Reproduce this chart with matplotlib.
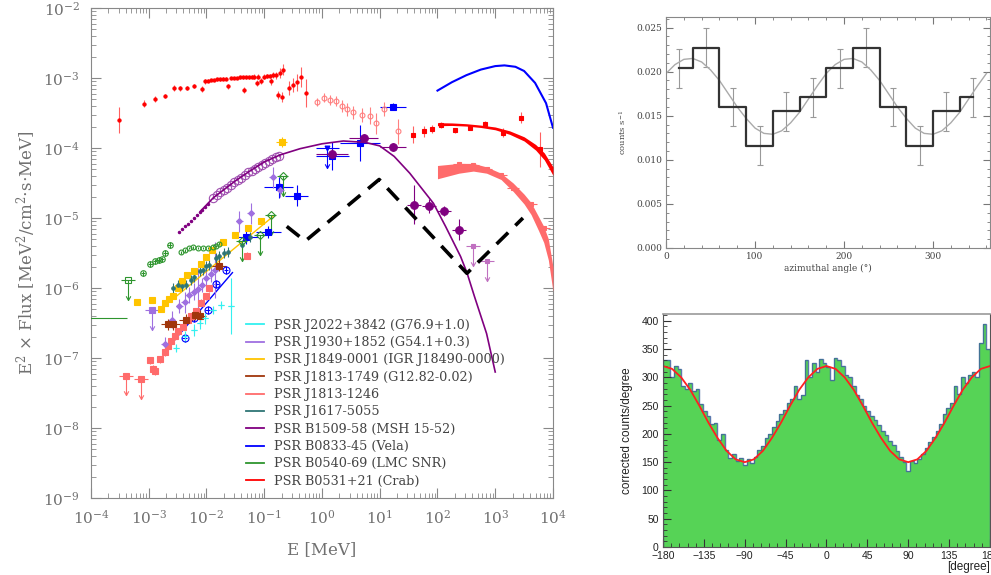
import matplotlib
matplotlib.use("Agg")
import matplotlib.pyplot as plt
import numpy as np
from matplotlib.lines import Line2D
from matplotlib.path import Path
from matplotlib.ticker import LogLocator, MultipleLocator, NullFormatter, FormatStrFormatter

plt.rcParams["font.family"] = ["DejaVu Serif"]
plt.rcParams["mathtext.fontset"] = "dejavuserif"

# ---------------- left panel: log10(E / MeV), log10(E^2 F) ----------------
crab_xr_logE = [-3.52, -3.08, -2.89, -2.72, -2.56, -2.46, -2.33, -2.21, -2.07, -2.02, -1.97, -1.92,
                -1.87, -1.82, -1.77, -1.72, -1.67, -1.62, -1.57, -1.52, -1.47, -1.42, -1.37, -1.35,
                -1.32, -1.27, -1.22, -1.17, -1.13, -1.10, -1.05, -1.00, -0.95, -0.90, -0.88, -0.85,
                -0.80, -0.76, -0.72, -0.70, -0.67, -0.57, -0.50, -0.43, -0.36, -0.28]
crab_xr_logF = [-3.60, -3.37, -3.30, -3.26, -3.14, -3.15, -3.14, -3.12, -3.16, -3.05, -3.04, -3.03,
                -3.03, -3.02, -3.02, -3.01, -3.01, -3.12, -3.00, -3.00, -3.00, -2.99, -2.99, -3.17,
                -2.99, -2.99, -2.98, -2.98, -3.07, -2.98, -3.04, -2.98, -2.97, -2.97, -3.05, -2.96,
                -2.96, -3.24, -2.93, -3.27, -2.88, -3.14, -3.10, -3.06, -2.99, -3.21]
crab_xr_err = [0.19, 0.05, 0.04, 0.03, 0.04, 0.03, 0.03, 0.03, 0.04, 0.03, 0.02, 0.02,
               0.02, 0.02, 0.02, 0.02, 0.02, 0.04, 0.02, 0.02, 0.02, 0.02, 0.02, 0.04,
               0.02, 0.02, 0.02, 0.03, 0.04, 0.03, 0.04, 0.03, 0.03, 0.03, 0.05, 0.04,
               0.05, 0.06, 0.07, 0.07, 0.08, 0.10, 0.10, 0.12, 0.14, 0.20]
crab_mev_logE = [-0.08, 0.04, 0.14, 0.24, 0.34, 0.43, 0.54, 0.69, 0.83, 0.94, 1.08, 1.32]
crab_mev_logF = [-3.34, -3.28, -3.32, -3.33, -3.40, -3.45, -3.49, -3.53, -3.54, -3.65, -3.45, -3.76]
crab_mev_err = [0.06, 0.07, 0.07, 0.07, 0.08, 0.09, 0.09, 0.10, 0.12, 0.15, 0.10, 0.18]
crab_gev_logE = [1.57, 1.76, 1.91, 2.06, 2.31, 2.57, 2.83, 3.14, 3.44, 3.78]
crab_gev_logF = [-3.81, -3.76, -3.73, -3.67, -3.75, -3.71, -3.66, -3.78, -3.57, -4.02]
crab_gev_err = [0.12, 0.08, 0.06, 0.04, 0.03, 0.03, 0.04, 0.06, 0.08, 0.25]
crab_model_logE = [2.0, 2.25, 2.5, 2.75, 3.0, 3.25, 3.5, 3.7, 3.85, 4.0]
crab_model_logF = [-3.66, -3.66, -3.67, -3.69, -3.72, -3.78, -3.87, -3.99, -4.12, -4.33]
crab_model_width = [0.022, 0.018, 0.017, 0.017, 0.02, 0.025, 0.03, 0.04, 0.05, 0.06]

vela_model_logE = [2.0, 2.25, 2.5, 2.75, 3.0, 3.16, 3.35, 3.5, 3.69, 3.88, 4.0]
vela_model_logF = [-3.18, -3.06, -2.96, -2.88, -2.83, -2.82, -2.84, -2.90, -3.07, -3.36, -3.71]
vela_hi_logE = [1.23, 0.66, 0.18, -0.44, -0.75, -0.93, -1.31]
vela_hi_logF = [-3.41, -3.93, -4.12, -4.68, -4.56, -5.20, -5.27]
vela_hi_xerr = [0.23, 0.35, 0.28, 0.20, 0.25, 0.22, 0.20]
vela_hi_yerr = [0.05, 0.26, 0.20, 0.15, 0.15, 0.08, 0.10]
vela_ul_logE = [0.09]
vela_ul_logF = [-4.00]
vela_xr_logE = [-2.55, -1.55]
vela_xr_logF = [-6.74, -5.78]
vela_pts_logE = [-2.38, -2.21, -1.98, -1.83, -1.66]
vela_pts_logF = [-6.71, -6.43, -6.31, -5.94, -5.74]

j1813b_band_logE = [2.0, 2.37, 2.62, 2.85, 3.10, 3.31, 3.50, 3.62, 3.75, 3.84, 3.92, 4.0]
j1813b_band_hi = [-4.25, -4.22, -4.22, -4.27, -4.36, -4.50, -4.66, -4.78, -4.98, -5.12, -5.30, -5.70]
j1813b_band_lo = [-4.44, -4.36, -4.33, -4.36, -4.45, -4.62, -4.80, -4.95, -5.18, -5.35, -5.60, -6.05]
j1813b_gev_logE = [2.37, 2.62, 2.85, 3.10, 3.31, 3.62, 3.84]
j1813b_gev_logF = [-4.23, -4.24, -4.30, -4.39, -4.57, -4.80, -5.14]
j1813b_xr_logE = [-2.98, -2.93, -2.89, -2.81, -2.72, -2.67, -2.61, -2.55, -2.49, -2.41, -2.32,
                  -2.26, -2.18, -2.09, -2.01, -1.95, -1.29]
j1813b_xr_logF = [-7.03, -7.15, -7.19, -7.02, -6.92, -6.83, -6.76, -6.69, -6.62, -6.55, -6.45,
                  -6.40, -6.33, -6.21, -6.12, -6.00, -5.54]
j1813b_ul_logE = [-3.39, -3.13]
j1813b_ul_logF = [-7.25, -7.30]

b1509_curve_logE = [-2.1, -1.88, -1.5, -1.25, -1.0, -0.73, -0.38, 0.0, 0.37, 0.75, 1.0, 1.25,
                    1.52, 1.93, 2.14, 2.4, 2.51, 2.64, 2.85, 3.0]
b1509_curve_logF = [-4.90, -4.71, -4.47, -4.33, -4.20, -4.10, -4.01, -3.94, -3.90, -3.92, -3.97,
                    -4.12, -4.36, -4.79, -5.12, -5.55, -5.78, -6.12, -6.65, -7.20]
b1509_dots_logE = [-2.47, -2.42, -2.37, -2.32, -2.27, -2.22, -2.17, -2.12, -2.07, -2.02, -1.97]
b1509_dots_logF = [-5.20, -5.16, -5.12, -5.08, -5.04, -5.00, -4.96, -4.92, -4.88, -4.84, -4.80]
b1509_circ_logE = [-1.88, -1.82, -1.76, -1.70, -1.64, -1.58, -1.52, -1.46, -1.40, -1.34, -1.28,
                   -1.22, -1.16, -1.10, -1.04, -0.98, -0.92, -0.86, -0.80, -0.74]
b1509_circ_logF = [-4.71, -4.67, -4.63, -4.60, -4.57, -4.53, -4.49, -4.46, -4.43, -4.39, -4.35,
                   -4.33, -4.30, -4.27, -4.24, -4.21, -4.18, -4.16, -4.13, -4.11]
b1509_hi_logE = [0.17, 0.72, 1.23, 1.60, 1.86, 2.11, 2.37]
b1509_hi_logF = [-4.08, -3.86, -3.99, -4.81, -4.83, -4.90, -5.17]
b1509_hi_xerr = [0.28, 0.25, 0.23, 0.12, 0.12, 0.12, 0.12]
b1509_hi_yerr = [0.06, 0.06, 0.06, 0.28, 0.10, 0.07, 0.15]
b1509_ul_logE = [2.62, 2.86]
b1509_ul_logF = [-5.40, -5.62]

j1930_logE = [-2.72, -2.60, -2.47, -2.38, -2.30, -2.22, -2.15, -2.08, -2.00, -1.92, -1.85,
              -1.43, -1.23, -0.85, -0.72]
j1930_logF = [-6.80, -6.45, -6.26, -6.20, -6.10, -6.05, -6.02, -5.95, -5.85, -5.80, -5.74,
              -5.05, -4.93, -4.42, -4.60]
j1930_err = [0.10, 0.12, 0.10, 0.15, 0.12, 0.12, 0.30, 0.10, 0.12, 0.12, 0.40,
             0.15, 0.15, 0.15, 0.10]
j1930_ul_logE = [-2.95]
j1930_ul_logF = [-6.32]

j1849_logE = [-3.20, -2.95, -2.79, -2.72, -2.65, -2.58, -2.50, -2.42, -2.33, -2.22, -2.10,
              -2.00, -1.90, -1.72, -1.50, -1.28, -1.05]
j1849_logF = [-6.20, -6.17, -6.30, -6.22, -6.16, -6.11, -6.00, -5.90, -5.82, -5.75, -5.65,
              -5.55, -5.46, -5.35, -5.25, -5.15, -5.04]
j1849_line_logE = [-2.79, -0.85]
j1849_line_logF = [-6.30, -4.98]
j1849_hi_logE = [-0.70]
j1849_hi_logF = [-3.91]

j1617_logE = [-2.58, -2.50, -2.43, -2.35, -2.26, -2.21, -2.12, -2.06, -2.01, -1.95, -1.84,
              -1.78, -1.70, -1.63, -1.38, -1.25]
j1617_logF = [-6.00, -5.95, -5.97, -5.95, -5.88, -5.84, -5.76, -5.74, -5.69, -5.67, -5.57,
              -5.54, -5.50, -5.48, -5.38, -5.27]

j1813a_logE = [-2.67, -2.58, -2.35, -2.20, -2.12, -1.78]
j1813a_logF = [-6.52, -6.52, -6.45, -6.38, -6.40, -5.68]

j2022_logE = [-2.52, -2.38, -2.21, -2.12, -2.03, -1.89, -1.75, -1.57]
j2022_logF = [-6.86, -6.69, -6.60, -6.50, -6.43, -6.31, -6.24, -6.26]
j2022_err = [0.06, 0.08, 0.08, 0.08, 0.08, 0.06, 0.06, 0.40]

b0540_cross_logE = [-3.10, -2.97, -2.89, -2.83, -2.77, -2.71, -2.64]
b0540_cross_logF = [-5.79, -5.66, -5.62, -5.60, -5.59, -5.50, -5.39]
b0540_circ_logE = [-2.44, -2.38, -2.30, -2.24, -2.15, -2.06, -1.98, -1.89, -1.83, -1.78]
b0540_circ_logF = [-5.49, -5.46, -5.43, -5.42, -5.43, -5.43, -5.43, -5.41, -5.40, -5.37]
b0540_sq_ul_logE = [-3.36]
b0540_sq_ul_logF = [-5.89]
b0540_ul_logE = [-1.39, -1.07, -0.89, -0.68]
b0540_ul_logF = [-5.33, -5.25, -4.96, -4.40]
b0540_bar_logE = [-3.75]
b0540_bar_logF = [-6.43]

sens_logE = [-0.61, -0.29, 0.99, 2.51, 3.48]
sens_logF = [-5.12, -5.33, -4.45, -5.79, -5.00]

legend_labels = ["PSR J2022+3842 (G76.9+1.0)", "PSR J1930+1852 (G54.1+0.3)",
                 "PSR J1849-0001 (IGR J18490-0000)", "PSR J1813-1749 (G12.82-0.02)",
                 "PSR J1813-1246", "PSR J1617-5055", "PSR B1509-58 (MSH 15-52)",
                 "PSR B0833-45 (Vela)", "PSR B0540-69 (LMC SNR)", "PSR B0531+21 (Crab)"]

# ---------------- top right: azimuthal modulation ----------------
pol_angle = [15, 45, 75, 105, 135, 165, 195, 225, 255, 285, 315, 345]
pol_rate = [0.0204, 0.0227, 0.0160, 0.0116, 0.0155, 0.0171, 0.0204, 0.0227, 0.0160, 0.0116, 0.0155, 0.0171]
pol_err = [0.0022] * 12
pol_fit_angle = list(range(0, 370, 10))
pol_fit_rate = [0.0198, 0.0208, 0.0214, 0.0215, 0.0211, 0.0202, 0.0190, 0.0175, 0.0160, 0.0147,
                0.0136, 0.0130, 0.0129, 0.0133, 0.0142, 0.0154, 0.0169, 0.0184, 0.0198, 0.0208,
                0.0214, 0.0215, 0.0211, 0.0202, 0.0190, 0.0175, 0.0160, 0.0147, 0.0136, 0.0130,
                0.0129, 0.0133, 0.0142, 0.0154, 0.0169, 0.0184, 0.0198]

# ---------------- bottom right: corrected counts histogram ----------------
hist_edges = list(range(-180, 184, 4))
hist_counts = [330, 330, 300, 320, 315, 285, 280, 290, 275, 280, 252, 240, 232, 218, 220, 190,
               200, 172, 158, 165, 152, 158, 145, 155, 148, 160, 172, 178, 192, 200, 212, 222,
               235, 242, 255, 262, 285, 262, 268, 330, 300, 325, 310, 332, 325, 318, 295, 335,
               330, 320, 305, 300, 285, 268, 262, 250, 240, 232, 225, 215, 205, 198, 188, 180,
               170, 160, 150, 135, 152, 148, 155, 165, 175, 185, 195, 205, 218, 235, 245, 255,
               285, 270, 300, 290, 305, 310, 300, 360, 395, 350]
hist_fit_angle = list(range(-180, 190, 10))
hist_fit_counts = [320, 315, 300, 278, 250, 220, 193, 170, 155, 150, 155, 170, 193, 220, 250, 278,
                   300, 315, 320, 315, 300, 278, 250, 220, 193, 170, 155, 150, 155, 170, 193, 220,
                   250, 278, 300, 315, 320]

ARROW_HEAD = Path([(-0.55, 1.0), (0.0, 0.0), (0.55, 1.0)], [Path.MOVETO, Path.LINETO, Path.LINETO])


def dex(v):
    return np.power(10.0, np.asarray(v, dtype=float))


def points(ax, logE, logF, color, fmt="o", ms=3, yerr=0.0, xerr=0.0, mfc=None, ecolor=None, zorder=3):
    x, y = dex(logE), dex(logF)
    ye = np.broadcast_to(np.asarray(yerr, dtype=float), x.shape)
    xe = np.broadcast_to(np.asarray(xerr, dtype=float), x.shape)
    ax.errorbar(x, y, yerr=[y - y / dex(ye), y * dex(ye) - y], xerr=[x - x / dex(xe), x * dex(xe) - x],
                fmt=fmt, ms=ms, color=color, mec=color, mfc=color if mfc is None else mfc,
                ecolor=ecolor or color, elinewidth=0.8, capsize=0, mew=0.8, zorder=zorder)


def upper_limits(ax, logE, logF, color, fmt="s", ms=3, xerr=0.0, mfc=None):
    # downward arrows marking upper limits
    x, y = dex(logE), dex(logF)
    tip = y / 10 ** 0.28
    ax.vlines(x, tip, y, color=color, lw=0.8, zorder=3)
    ax.plot(x, tip, ls="none", marker=ARROW_HEAD, ms=6, mfc="none", mec=color, mew=0.8, zorder=3)
    points(ax, logE, logF, color, fmt=fmt, ms=ms, xerr=xerr, mfc=mfc)


fig = plt.figure(figsize=(9.91, 5.75), dpi=100)

ax = fig.add_axes([0.0918, 0.1339, 0.4662, 0.8522])
ax.set_xscale("log")
ax.set_yscale("log")

c_crab, c_vela, c_b1509 = "#FF0000", "#0000FF", "#800080"
c_j1813b, c_j1930, c_j1849 = "#FF6B6B", "#9F70E0", "#FFC400"
c_j1617, c_j1813a, c_j2022, c_b0540 = "#2E7575", "#A0360C", "#33F0F0", "#2E952E"

# Crab
points(ax, crab_xr_logE, crab_xr_logF, c_crab, "o", 2.3, crab_xr_err, ecolor="#FF6060")
points(ax, crab_mev_logE, crab_mev_logF, "#FF8080", "o", 3.5, crab_mev_err, mfc="none")
points(ax, crab_gev_logE, crab_gev_logF, c_crab, "s", 3, crab_gev_err, ecolor="#FF6060")
mid = np.asarray(crab_model_logF)
w = np.asarray(crab_model_width)
ax.fill_between(dex(crab_model_logE), dex(mid - w), dex(mid + w), color=c_crab, lw=0, zorder=4)

# Vela
ax.plot(dex(vela_model_logE), dex(vela_model_logF), color=c_vela, lw=1.5, zorder=4)
points(ax, vela_hi_logE, vela_hi_logF, c_vela, "s", 4, vela_hi_yerr, vela_hi_xerr)
upper_limits(ax, vela_ul_logE, vela_ul_logF, c_vela, "v", 3.5, 0.2)
ax.plot(dex(vela_xr_logE), dex(vela_xr_logF), color=c_vela, lw=1.0, zorder=3)
points(ax, vela_pts_logE, vela_pts_logF, c_vela, "o", 5, 0.06, 0.04, mfc="none")

# J1813-1246
ax.fill_between(dex(j1813b_band_logE), dex(j1813b_band_lo), dex(j1813b_band_hi), color=c_j1813b, lw=0, zorder=3)
points(ax, j1813b_gev_logE, j1813b_gev_logF, c_j1813b, "s", 3, 0.03, 0.1)
points(ax, j1813b_xr_logE, j1813b_xr_logF, c_j1813b, "s", 4.5, 0.05)
upper_limits(ax, j1813b_ul_logE, j1813b_ul_logF, c_j1813b, "s", 4, 0.12)

# B1509-58
ax.plot(dex(b1509_curve_logE), dex(b1509_curve_logF), color=c_b1509, lw=1.2, zorder=4)
ax.plot(dex(b1509_dots_logE), dex(b1509_dots_logF), "o", color=c_b1509, ms=1.5, zorder=4)
points(ax, b1509_circ_logE, b1509_circ_logF, "#A050B0", "o", 6, 0.02, mfc="none")
points(ax, b1509_hi_logE, b1509_hi_logF, c_b1509, "o", 5.5, b1509_hi_yerr, b1509_hi_xerr)
upper_limits(ax, b1509_ul_logE, b1509_ul_logF, "#C070C0", "s", 3.5, 0.12)

# J1930+1852
points(ax, j1930_logE, j1930_logF, c_j1930, "D", 3, j1930_err, 0.06)
upper_limits(ax, j1930_ul_logE, j1930_ul_logF, c_j1930, "s", 4, 0.12)

# J1849-0001
ax.plot(dex(j1849_line_logE), dex(j1849_line_logF), color=c_j1849, lw=1.0, zorder=3)
points(ax, j1849_logE, j1849_logF, c_j1849, "s", 4, 0.03)
points(ax, j1849_hi_logE, j1849_hi_logF, c_j1849, "s", 4, 0.07, 0.1)

# J1617-5055
points(ax, j1617_logE, j1617_logF, c_j1617, "o", 2.5, 0.07)

# J1813-1749
points(ax, j1813a_logE, j1813a_logF, c_j1813a, "s", 4.5, 0.08, 0.12)

# J2022+3842
points(ax, j2022_logE, j2022_logF, c_j2022, "+", 5, j2022_err, 0.05)

# B0540-69
points(ax, b0540_cross_logE, b0540_cross_logF, c_b0540, "o", 4, 0.04, 0.04, mfc="none")
points(ax, b0540_circ_logE, b0540_circ_logF, c_b0540, "o", 3.5, 0.02, mfc="none")
upper_limits(ax, b0540_sq_ul_logE, b0540_sq_ul_logF, c_b0540, "s", 5, 0.12, mfc="none")
upper_limits(ax, b0540_ul_logE, b0540_ul_logF, c_b0540, "D", 4, 0.1, mfc="none")
points(ax, b0540_bar_logE, b0540_bar_logF, c_b0540, "none", 3, 0.0, 0.38)

# sensitivity
ax.plot(dex(sens_logE), dex(sens_logF), color="black", lw=2.6, dashes=(4.5, 2.8), zorder=5)

ax.set_xlim(1e-4, 1e4)
ax.set_ylim(1e-9, 1e-2)
ax.set_xticks(dex(np.arange(-4, 5)))
ax.set_yticks(dex(np.arange(-9, -1)))
for axis in (ax.xaxis, ax.yaxis):
    axis.set_minor_locator(LogLocator(base=10, subs=np.arange(2, 10), numticks=20))
    axis.set_minor_formatter(NullFormatter())
ax.tick_params(which="both", direction="in", top=True, right=True, color="#888888",
               labelcolor="#707070", labelsize=11)
ax.tick_params(which="major", length=7, pad=8)
ax.tick_params(which="minor", length=3.5)
for s in ax.spines.values():
    s.set_color("#888888")
ax.set_xlabel("E [MeV]", fontsize=12, color="#707070", labelpad=10)
ax.set_ylabel(r"E$^2$ $\times$ Flux [MeV$^2$/cm$^2$$\cdot$s$\cdot$MeV]", fontsize=12, color="#707070", labelpad=4)

colors = [c_j2022, c_j1930, c_j1849, c_j1813a, c_j1813b, c_j1617, c_b1509, c_vela, c_b0540, c_crab]
handles = [Line2D([], [], color=c, lw=1.3) for c in colors]
ax.legend(handles, legend_labels, loc="upper left", bbox_to_anchor=(0.335, 0.366), frameon=False,
          fontsize=9.2, handlelength=1.4, handletextpad=0.85, labelspacing=0.34, borderpad=0,
          borderaxespad=0, labelcolor="#444444")

# ---------------- top right ----------------
ax2 = fig.add_axes([0.6721, 0.5687, 0.3269, 0.4017])
ax2.errorbar(pol_angle, pol_rate, yerr=pol_err, fmt="none", ecolor="#999999", elinewidth=0.8, capsize=2.5, capthick=0.8)
ax2.plot(pol_fit_angle, pol_fit_rate, color="#AAAAAA", lw=1.0)
ax2.step(pol_angle, pol_rate, where="mid", color="#333333", lw=1.6)
ax2.set_xlim(0, 364)
ax2.set_ylim(0, 0.0262)
ax2.xaxis.set_major_locator(MultipleLocator(100))
ax2.xaxis.set_minor_locator(MultipleLocator(20))
ax2.yaxis.set_major_locator(MultipleLocator(0.005))
ax2.yaxis.set_minor_locator(MultipleLocator(0.001))
ax2.yaxis.set_major_formatter(FormatStrFormatter("%.3f"))
ax2.tick_params(which="both", direction="in", top=True, right=True, color="#777777",
                labelcolor="#444444", labelsize=6.5, pad=3)
ax2.tick_params(which="major", length=5)
ax2.tick_params(which="minor", length=2.5)
for s in ax2.spines.values():
    s.set_color("#888888")
    s.set_linewidth(0.8)
ax2.set_xlabel("azimuthal angle (°)", fontsize=6.5, color="#444444", labelpad=2)
ax2.set_ylabel(r"counts s$^{-1}$", fontsize=6, color="#444444", labelpad=6)

# ---------------- bottom right ----------------
ax3 = fig.add_axes([0.669, 0.0487, 0.330, 0.4052])
ax3.stairs(hist_counts, hist_edges, fill=True, color="#56D356", lw=0)
ax3.stairs(hist_counts, hist_edges, color="#3F62A0", lw=1.0, alpha=0.85)
ax3.plot(hist_fit_angle, hist_fit_counts, color="#FF2020", lw=1.3)
ax3.set_xlim(-180, 180)
ax3.set_ylim(0, 412)
ax3.set_xticks([-180, -135, -90, -45, 0, 45, 90, 135, 180])
ax3.xaxis.set_minor_locator(MultipleLocator(9))
ax3.yaxis.set_major_locator(MultipleLocator(50))
ax3.yaxis.set_minor_locator(MultipleLocator(10))
ax3.tick_params(which="both", direction="in", color="#333333", labelsize=7.5, pad=3,
                labelfontfamily="Liberation Sans", labelcolor="#222222")
ax3.tick_params(which="major", length=6)
ax3.tick_params(which="minor", length=3)
for s in ax3.spines.values():
    s.set_color("#555555")
    s.set_linewidth(0.8)
ax3.spines["top"].set_color("#999999")
ax3.spines["top"].set_linewidth(1.2)
ax3.set_ylabel("corrected counts/degree", fontsize=8.5, family="Liberation Sans", color="#222222", labelpad=6)
ax3.set_xlabel("[degree]", fontsize=8.5, family="Liberation Sans", color="#222222", loc="right", labelpad=0)

fig.savefig("out.png", dpi=100)
